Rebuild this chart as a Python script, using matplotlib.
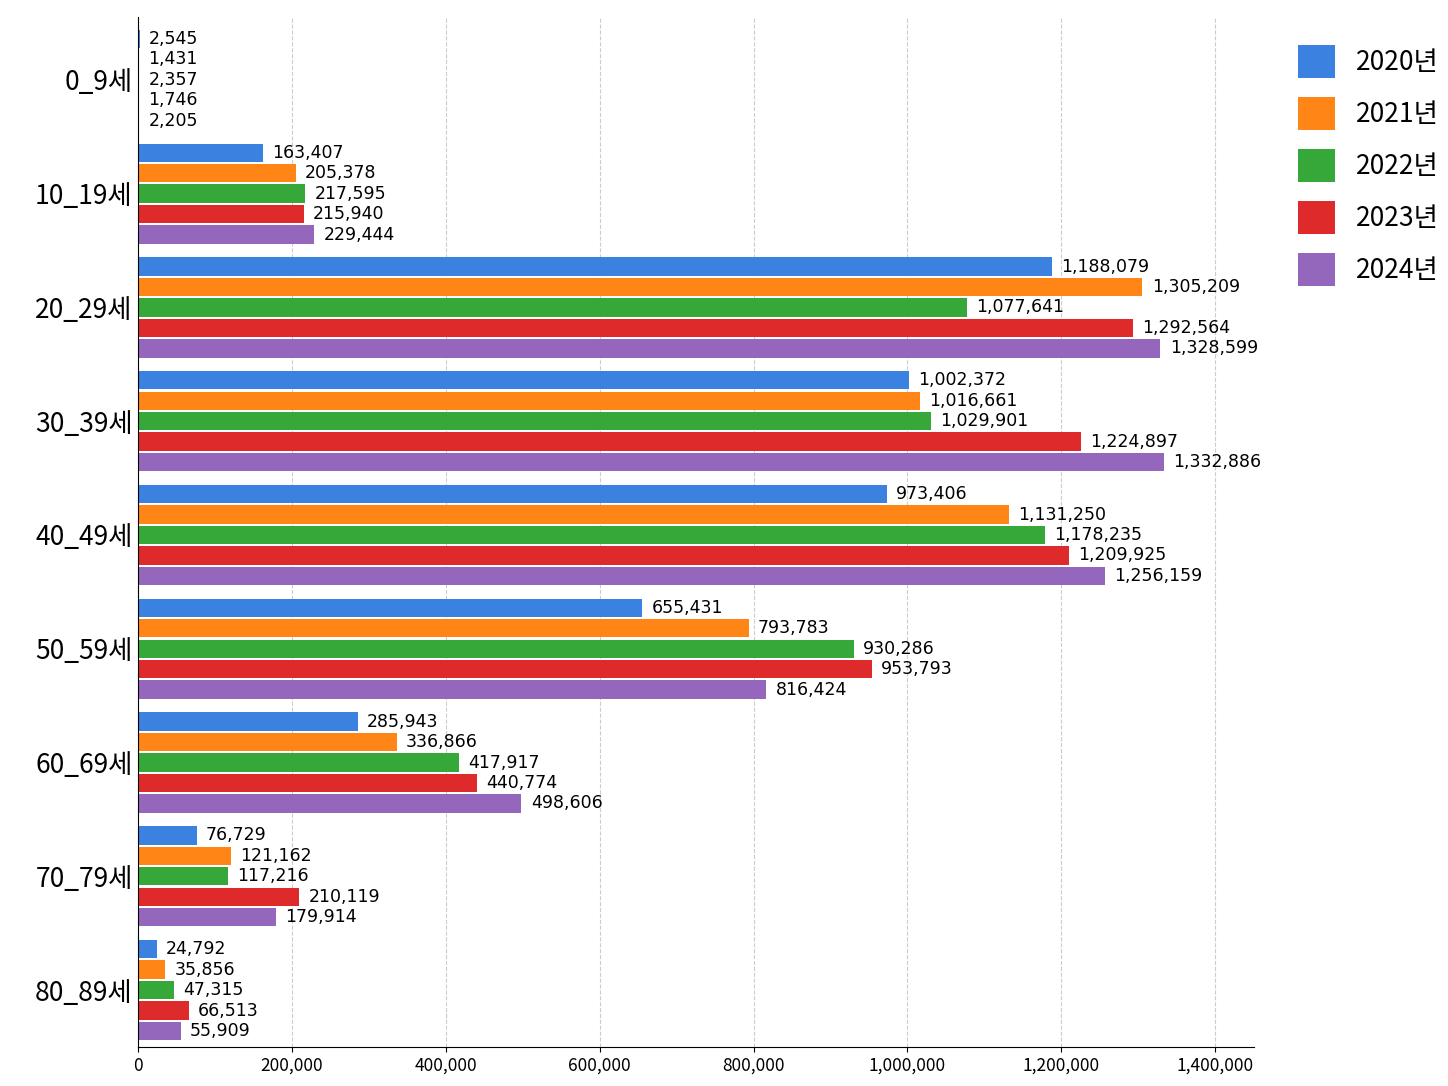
import matplotlib.pyplot as plt
import numpy as np

plt.rcParams['font.family'] = ['Noto Sans CJK KR', 'DejaVu Sans']

groups = ['0_9세', '10_19세', '20_29세', '30_39세', '40_49세',
          '50_59세', '60_69세', '70_79세', '80_89세']
years = ['2020년', '2021년', '2022년', '2023년', '2024년']
colors = ['#3b82e0', '#ff8517', '#36a83a', '#de2a2a', '#9467bd']

v2020 = [2545, 163407, 1188079, 1002372, 973406, 655431, 285943, 76729, 24792]
v2021 = [1431, 205378, 1305209, 1016661, 1131250, 793783, 336866, 121162, 35856]
v2022 = [2357, 217595, 1077641, 1029901, 1178235, 930286, 417917, 117216, 47315]
v2023 = [1746, 215940, 1292564, 1224897, 1209925, 953793, 440774, 210119, 66513]
v2024 = [2205, 229444, 1328599, 1332886, 1256159, 816424, 498606, 179914, 55909]
series = [v2020, v2021, v2022, v2023, v2024]

fig = plt.figure(figsize=(14.48, 10.86), dpi=100)
ax = fig.add_axes([0.095, 0.036, 0.771, 0.948])

bh = 0.18
y = np.arange(len(groups))
for i, (vals, c, lab) in enumerate(zip(series, colors, years)):
    pos = y + (i - 2) * bh
    ax.barh(pos, vals, height=bh * 0.9, color=c, label=lab)
    for p, v in zip(pos, vals):
        ax.text(v + 12000, p, f'{v:,}', va='center', ha='left', fontsize=12.5,
                family='DejaVu Sans')

ax.set_yticks(y)
ax.set_yticklabels(groups, fontsize=19)
ax.set_ylim(len(groups) - 0.5, -0.55)
ax.set_xlim(0, 1450000)
ax.set_xticks(np.arange(0, 1400001, 200000))
ax.set_xticklabels([f'{t:,}' for t in range(0, 1400001, 200000)], fontsize=12.5)
ax.grid(axis='x', linestyle='--', color='#cccccc')
ax.set_axisbelow(True)
for s in ['top', 'right']:
    ax.spines[s].set_visible(False)
ax.tick_params(axis='y', length=0)

fig.legend(loc='upper left', bbox_to_anchor=(0.88, 0.98), fontsize=19,
           frameon=False, handlelength=1.4, handleheight=1.5, labelspacing=0.75)

fig.savefig('out.png', dpi=100)
